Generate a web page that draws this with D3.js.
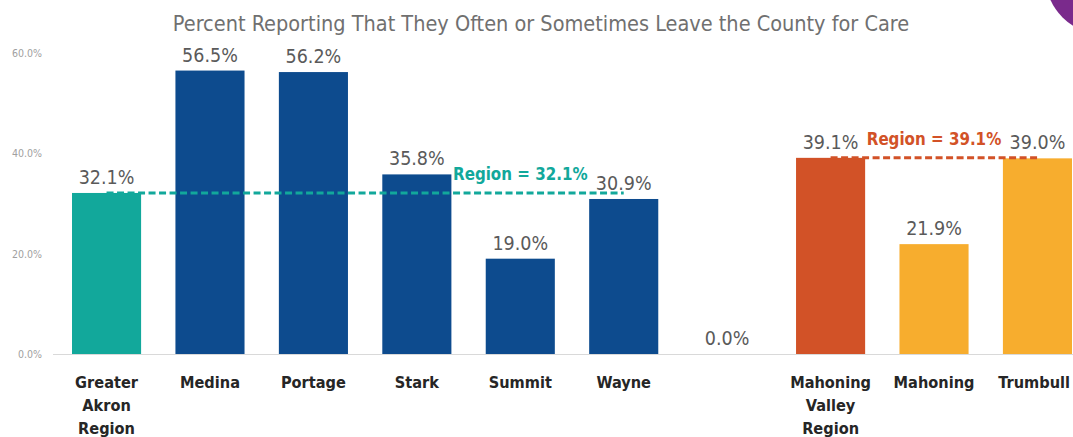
<!DOCTYPE html>
<html>
<head>
<meta charset="utf-8">
<script src="https://cdn.jsdelivr.net/npm/d3@7"></script>
<style>
  html, body { margin: 0; padding: 0; background: #fff; }
  svg { display: block; }
  text { font-family: "Liberation Sans Narrow", "DejaVu Sans Condensed", "Roboto", sans-serif; }
</style>
</head>
<body>
<svg id="chart" width="1073" height="437"></svg>
<script>
// ---- data ----
const title = "Percent Reporting That They Often or Sometimes Leave the County for Care";
const categories = ["Greater\nAkron\nRegion", "Medina", "Portage", "Stark", "Summit", "Wayne", "", "Mahoning\nValley\nRegion", "Mahoning", "Trumbull"];
const values = [32.1, 56.5, 56.2, 35.8, 19.0, 30.9, 0.0, 39.1, 21.9, 39.0];
const groups = ["akronRegion", "akron", "akron", "akron", "akron", "akron", "gap", "valleyRegion", "valley", "valley"];
const yTicks = [0, 20, 40, 60];
const regionValues = [32.1, 39.1];
const regionLabels = ["Region = 32.1%", "Region = 39.1%"];
const regionFrom = [0, 7];
const regionTo = [5, 9];
const regionLabelAt = [4, 8];
const regionGroups = ["akronRegion", "valleyRegion"];

// ---- layout ----
const svg = d3.select("#chart");
const W = 1073, H = 437;
const y = d3.scaleLinear().domain([0, 60]).range([354, 53]);
const x = d3.scaleBand().domain(d3.range(categories.length)).range([72, 1072]).paddingInner(0.332).paddingOuter(0);
const color = d3.scaleOrdinal()
  .domain(["akronRegion", "akron", "gap", "valleyRegion", "valley"])
  .range(["#12a89b", "#0d4b8e", "#cccccc", "#d25227", "#f7ad2e"]);

// decorative corner shape
svg.append("circle").attr("cx", 1105).attr("cy", -25).attr("r", 60).attr("fill", "#7a2a8c");

// title
svg.append("text")
  .attr("x", 541).attr("y", 31)
  .attr("text-anchor", "middle")
  .attr("font-size", 21.5)
  .attr("fill", "#707070")
  .text(title);

// y axis
const yAxis = d3.axisLeft(y).tickValues(yTicks).tickFormat(d => d.toFixed(1) + "%").tickSize(0).tickPadding(0);
const gy = svg.append("g").attr("transform", "translate(42,0)").call(yAxis);
gy.select(".domain").remove();
gy.selectAll("text").attr("font-size", 10.5).attr("fill", "#a0a0a0")
  .style("font-family", "'Liberation Sans Narrow', 'DejaVu Sans Condensed', sans-serif");

// baseline
svg.append("line")
  .attr("x1", 53).attr("x2", W).attr("y1", y(0) + 0.5).attr("y2", y(0) + 0.5)
  .attr("stroke", "#d9d9d9").attr("stroke-width", 1);

// bars
svg.append("g").selectAll("rect")
  .data(values.map((v, i) => ({ v, i })).filter(d => d.v > 0))
  .join("rect")
  .attr("x", d => x(d.i))
  .attr("width", x.bandwidth())
  .attr("y", d => y(d.v))
  .attr("height", d => y(0) - y(d.v))
  .attr("fill", d => color(groups[d.i]));

// value labels
svg.append("g").selectAll("text")
  .data(values.map((v, i) => ({ v, i })))
  .join("text")
  .attr("x", d => x(d.i) + x.bandwidth() / 2)
  .attr("y", d => d.v > 0 ? y(d.v) - 9 : y(0) - 9)
  .attr("text-anchor", "middle")
  .attr("font-size", 19.5)
  .attr("fill", "#5a5a5a")
  .text(d => d.v.toFixed(1) + "%");

// region dashed lines + labels
regionValues.forEach((rv, k) => {
  const c = color(regionGroups[k]);
  svg.append("line")
    .attr("x1", x(regionFrom[k]) + x.bandwidth() / 2)
    .attr("x2", x(regionTo[k]) + x.bandwidth() / 2)
    .attr("y1", y(rv)).attr("y2", y(rv))
    .attr("stroke", c).attr("stroke-width", 3)
    .attr("stroke-dasharray", "7,3.5");
  svg.append("text")
    .attr("x", x(regionLabelAt[k]) + x.bandwidth() / 2)
    .attr("y", y(rv) - 13)
    .attr("text-anchor", "middle")
    .attr("font-size", 16.8)
    .attr("font-weight", "bold")
    .attr("fill", c)
    .text(regionLabels[k]);
});

// category labels
const cat = svg.append("g").selectAll("text")
  .data(categories.map((c, i) => ({ c, i })))
  .join("text")
  .attr("y", 388)
  .attr("text-anchor", "middle")
  .attr("font-size", 16.2)
  .attr("font-weight", "bold")
  .attr("fill", "#262626");
cat.selectAll("tspan")
  .data(d => d.c.split("\n").filter(s => s.length).map((s, j) => ({ s, j, x: x(d.i) + x.bandwidth() / 2 })))
  .join("tspan")
  .attr("x", t => t.x)
  .attr("dy", t => t.j === 0 ? 0 : 23)
  .text(t => t.s);
// keep labels inside the right edge
cat.selectAll("tspan").each(function (t) {
  const w = this.getComputedTextLength();
  if (t.x + w / 2 > W - 3) d3.select(this).attr("x", W - 3 - w / 2);
});
</script>
</body>
</html>
